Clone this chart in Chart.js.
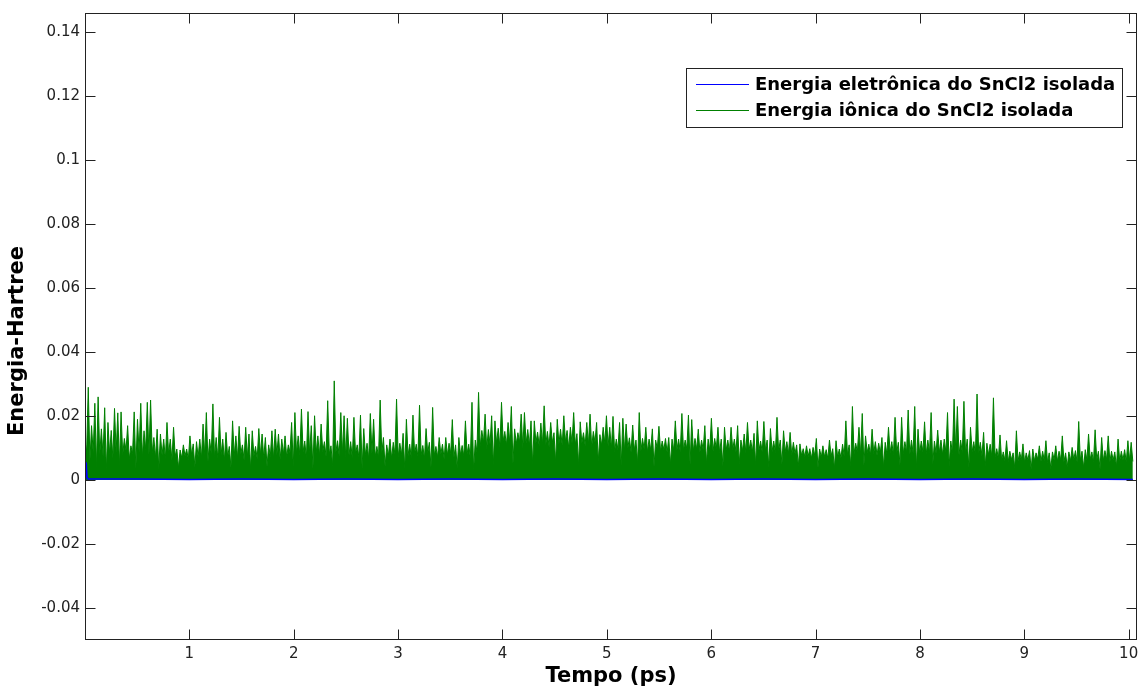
<!DOCTYPE html>
<html lang="pt">
<head>
    <meta charset="UTF-8">
    <title>Energia do SnCl2 isolada</title>
    <script src="https://cdn.jsdelivr.net/npm/chart.js"></script>
    <style>
        html, body { margin: 0; padding: 0; background: #fff; }
        #grafico { display: block; }
    </style>
</head>
<body>
    <canvas id="grafico" width="1139" height="690"></canvas>

    <script>
        // Rótulos e eixos
        const rotulos = ['Energia eletrônica do SnCl2 isolada', 'Energia iônica do SnCl2 isolada'];
        const tituloX = 'Tempo (ps)';
        const tituloY = 'Energia-Hartree';
        const ticksX = [1, 2, 3, 4, 5, 6, 7, 8, 9, 10];
        const ticksY = [-0.04, -0.02, 0, 0.02, 0.04, 0.06, 0.08, 0.1, 0.12, 0.14];

        // Energia eletrônica
        const tempoEle = [0, 0.005, 0.012, 0.02, 0.03, 0.5, 1.0, 1.5, 2.0, 2.5, 3.0, 3.5, 4.0, 4.5, 5.0,
            5.5, 6.0, 6.5, 7.0, 7.5, 8.0, 8.5, 9.0, 9.5, 10.04];
        const energiaEle = [0.0002, 0.0048, 0.0051, 0.0009, 0.0003, 0.0003, 0.0002, 0.0003, 0.0002, 0.0003,
            0.0002, 0.0003, 0.0002, 0.0003, 0.0002, 0.0003, 0.0002, 0.0003, 0.0002, 0.0003, 0.0002, 0.0003,
            0.0002, 0.0003, 0.0002];

        // Energia iônica: máximos e mínimos sucessivos da oscilação
        const tempoFinalIon = 10.04;
        const picosIon = [
            0.012, 0.029, 0.017, 0.024, 0.026, 0.016, 0.0226, 0.018, 0.0155, 0.0224, 0.021, 0.0213, 0.013, 0.017, 0.0107, 0.0213, 0.019, 0.024, 0.0154, 0.0243,
            0.025, 0.0133, 0.0159, 0.0144, 0.0128, 0.018, 0.0128, 0.0165, 0.0097, 0.0094, 0.011, 0.0097, 0.0138, 0.0113, 0.012, 0.0128, 0.0175, 0.0211, 0.0128, 0.0238,
            0.0133, 0.0196, 0.0128, 0.0149, 0.0105, 0.0185, 0.0138, 0.0168, 0.011, 0.0165, 0.0144, 0.0154, 0.0105, 0.0161, 0.0144, 0.0133, 0.011, 0.0154, 0.0159, 0.0144,
            0.0128, 0.0138, 0.011, 0.018, 0.0211, 0.0138, 0.0222, 0.0122, 0.0214, 0.017, 0.0201, 0.0138, 0.0175, 0.012, 0.0248, 0.0107, 0.031, 0.0123, 0.0211, 0.0201,
            0.0193, 0.012, 0.0196, 0.011, 0.0203, 0.0161, 0.0115, 0.0208, 0.019, 0.0105, 0.025, 0.0133, 0.011, 0.0128, 0.0118, 0.0253, 0.0115, 0.0146, 0.019, 0.0112,
            0.0203, 0.0112, 0.0234, 0.0108, 0.0161, 0.0118, 0.0227, 0.0105, 0.0133, 0.0112, 0.0133, 0.0115, 0.0189, 0.011, 0.0133, 0.0108, 0.0185, 0.0112, 0.0243, 0.0125,
            0.0274, 0.0155, 0.0206, 0.0158, 0.0201, 0.0185, 0.0162, 0.0243, 0.0152, 0.018, 0.023, 0.016, 0.0148, 0.0206, 0.0211, 0.0158, 0.0185, 0.0185, 0.015, 0.0178,
            0.0232, 0.0152, 0.018, 0.0148, 0.019, 0.0159, 0.0201, 0.0155, 0.0165, 0.0211, 0.0145, 0.0182, 0.0148, 0.018, 0.0206, 0.0152, 0.018, 0.0142, 0.0165, 0.0201,
            0.0165, 0.0199, 0.0128, 0.018, 0.0193, 0.0175, 0.0132, 0.0172, 0.0125, 0.0211, 0.013, 0.0165, 0.0128, 0.016, 0.0125, 0.0168, 0.0122, 0.013, 0.0133, 0.0128,
            0.0185, 0.0128, 0.0208, 0.0125, 0.0203, 0.0189, 0.013, 0.0159, 0.0125, 0.017, 0.0128, 0.0193, 0.013, 0.0165, 0.0128, 0.0165, 0.0125, 0.0165, 0.0128, 0.017,
            0.0125, 0.0144, 0.018, 0.0125, 0.0146, 0.0185, 0.0122, 0.0183, 0.0125, 0.0161, 0.0122, 0.0196, 0.0125, 0.0154, 0.012, 0.0149, 0.0118, 0.011, 0.0113, 0.0098,
            0.0107, 0.0098, 0.0102, 0.013, 0.0097, 0.0107, 0.0095, 0.0125, 0.0098, 0.0123, 0.0097, 0.0112, 0.0185, 0.011, 0.023, 0.0115, 0.0165, 0.0208, 0.0138, 0.0112,
            0.0159, 0.012, 0.0115, 0.0133, 0.0118, 0.0165, 0.012, 0.0196, 0.0118, 0.0196, 0.012, 0.0219, 0.0125, 0.023, 0.0159, 0.0122, 0.0182, 0.0125, 0.0211, 0.0122,
            0.0156, 0.0125, 0.0128, 0.0211, 0.0122, 0.0253, 0.023, 0.0125, 0.0246, 0.0128, 0.0165, 0.012, 0.0269, 0.0118, 0.0149, 0.0115, 0.0112, 0.0257, 0.0098, 0.0141,
            0.0088, 0.0123, 0.009, 0.0085, 0.0154, 0.0088, 0.0113, 0.0085, 0.0092, 0.0097, 0.0085, 0.0107, 0.009, 0.0123, 0.0085, 0.0088, 0.0107, 0.009, 0.0138, 0.0085,
            0.0088, 0.0102, 0.0092, 0.0183, 0.009, 0.0095, 0.0144, 0.0088, 0.0157, 0.009, 0.0133, 0.0092, 0.0138, 0.009, 0.0088, 0.0128, 0.009, 0.0095, 0.0123, 0.0118
        ];
        const valesIon = [
            0.009, 0.006, 0.0085, 0.004, 0.008, 0.0075, 0.003, 0.0082, 0.0068, 0.0088, 0.0045, 0.0078, 0.0092, 0.0065, 0.0083, 0.0035, 0.0087, 0.0072, 0.0095, 0.0079,
            0.0085, 0.007, 0.0035, 0.0078, 0.0066, 0.0081, 0.0062, 0.0074, 0.0038, 0.0069, 0.0075, 0.0064, 0.0079, 0.0041, 0.0072, 0.0068, 0.0077, 0.0059, 0.0082, 0.0071,
            0.0067, 0.0079, 0.0061, 0.0072, 0.0039, 0.0075, 0.0068, 0.0081, 0.0063, 0.0071, 0.0034, 0.0076, 0.0066, 0.0078, 0.0069, 0.0042, 0.0073, 0.0067, 0.0079, 0.0064,
            0.0081, 0.0072, 0.0086, 0.0043, 0.0084, 0.0079, 0.0088, 0.0069, 0.0083, 0.0036, 0.0085, 0.0077, 0.0089, 0.0074, 0.0082, 0.0045, 0.0087, 0.0076, 0.0084, 0.0071,
            0.0078, 0.0069, 0.0082, 0.0072, 0.0038, 0.0079, 0.0067, 0.0083, 0.0074, 0.0071, 0.0085, 0.0042, 0.0076, 0.0068, 0.0081, 0.0073, 0.0079, 0.0035, 0.0077, 0.0069,
            0.0082, 0.0074, 0.0079, 0.0068, 0.0084, 0.0041, 0.0077, 0.0072, 0.0081, 0.0066, 0.0078, 0.0083, 0.0071, 0.0037, 0.0079, 0.0075, 0.0082, 0.0069, 0.0028, 0.0088,
            0.0105, 0.0118, 0.0098, 0.0112, 0.0046, 0.0115, 0.0103, 0.0121, 0.0109, 0.0117, 0.0052, 0.0113, 0.0119, 0.0101, 0.0114, 0.0108, 0.0048, 0.0116, 0.0106, 0.0112,
            0.011, 0.0104, 0.0117, 0.0055, 0.0113, 0.0108, 0.012, 0.0099, 0.0115, 0.0111, 0.0047, 0.0116, 0.0107, 0.0112, 0.0103, 0.0118, 0.0058, 0.0109, 0.0114, 0.0106,
            0.0098, 0.0089, 0.0095, 0.0045, 0.0092, 0.0099, 0.0087, 0.0094, 0.0053, 0.0091, 0.0096, 0.0088, 0.0093, 0.0042, 0.0097, 0.009, 0.0094, 0.0086, 0.0049, 0.0092,
            0.0095, 0.0088, 0.0093, 0.0097, 0.0048, 0.0091, 0.0096, 0.0087, 0.0094, 0.0052, 0.0092, 0.0089, 0.0098, 0.0086, 0.0044, 0.0093, 0.009, 0.0095, 0.0088, 0.0051,
            0.0091, 0.0085, 0.0094, 0.0088, 0.0046, 0.0092, 0.0087, 0.0093, 0.0041, 0.0089, 0.0086, 0.0091, 0.0049, 0.0088, 0.0084, 0.0079, 0.0082, 0.0043, 0.0077, 0.0072,
            0.0074, 0.0068, 0.0076, 0.0039, 0.0071, 0.0073, 0.0067, 0.0075, 0.0036, 0.0072, 0.0069, 0.0074, 0.0079, 0.0042, 0.0083, 0.0088, 0.0081, 0.0045, 0.0086, 0.0079,
            0.0083, 0.0077, 0.0085, 0.0041, 0.0081, 0.0086, 0.0079, 0.0084, 0.0047, 0.0082, 0.0087, 0.008, 0.0085, 0.0038, 0.0083, 0.0088, 0.0081, 0.0086, 0.0049, 0.0084,
            0.0086, 0.008, 0.0087, 0.0045, 0.0083, 0.0089, 0.0078, 0.0085, 0.0082, 0.0039, 0.0088, 0.0081, 0.0084, 0.0076, 0.0044, 0.0079, 0.0074, 0.0071, 0.0068, 0.0062,
            0.0061, 0.0057, 0.0064, 0.0038, 0.0059, 0.0063, 0.0056, 0.0062, 0.0034, 0.006, 0.0065, 0.0058, 0.0061, 0.0055, 0.0036, 0.0063, 0.0059, 0.0062, 0.0057, 0.0041,
            0.006, 0.0064, 0.0057, 0.0062, 0.0039, 0.0061, 0.0065, 0.0058, 0.0063, 0.0035, 0.006, 0.0064, 0.0057, 0.0062, 0.0042, 0.0059, 0.0063, 0.0056, 0.0061, 0.0058
        ];

        const corEle = 'rgb(0, 0, 255)';
        const corIon = 'rgb(0, 128, 0)';
        const corEixo = '#222';

        // Monta os pontos (pico, vale, pico, vale...) em amostragem uniforme no tempo
        const pontosEle = tempoEle.map((t, i) => ({ x: t, y: energiaEle[i] }));
        const pontosIon = [];
        const nAmostras = picosIon.length * 2;
        const passo = tempoFinalIon / (nAmostras - 1);
        for (let i = 0; i < picosIon.length; i++) {
            pontosIon.push({ x: 2 * i * passo, y: picosIon[i] });
            pontosIon.push({ x: (2 * i + 1) * passo, y: valesIon[i] });
        }

        // Moldura, marcas internas, títulos e legenda no estilo do MATLAB
        const estiloMatlab = {
            id: 'estiloMatlab',
            afterDatasetsDraw(chart) {
                const ctx = chart.ctx;
                const area = chart.chartArea;
                const sx = chart.scales.x, sy = chart.scales.y;
                const L = Math.round(area.left) + 0.5, R = Math.round(area.right) - 0.5;
                const T = Math.round(area.top) + 0.5, B = Math.round(area.bottom) - 0.5;
                const tam = 10;

                ctx.save();
                ctx.strokeStyle = corEixo;
                ctx.lineWidth = 1;
                ctx.strokeRect(L, T, R - L, B - T);
                ctx.beginPath();
                ticksX.forEach(v => {
                    const px = Math.round(sx.getPixelForValue(v)) + 0.5;
                    ctx.moveTo(px, B); ctx.lineTo(px, B - tam);
                    ctx.moveTo(px, T); ctx.lineTo(px, T + tam);
                });
                ticksY.forEach(v => {
                    const py = Math.round(sy.getPixelForValue(v)) + 0.5;
                    ctx.moveTo(L, py); ctx.lineTo(L + tam, py);
                    ctx.moveTo(R, py); ctx.lineTo(R - tam, py);
                });
                ctx.stroke();

                // títulos dos eixos
                ctx.fillStyle = '#000';
                ctx.font = 'bold 21px "DejaVu Sans"';
                ctx.textAlign = 'center';
                ctx.textBaseline = 'middle';
                ctx.fillText(tituloX, (area.left + area.right) / 2, 677);
                ctx.translate(18, 341);
                ctx.rotate(-Math.PI / 2);
                ctx.fillText(tituloY, 0, 0);
                ctx.restore();

                // legenda
                ctx.save();
                const bx = 686.5, by = 68.5, bw = 436, bh = 59;
                ctx.fillStyle = '#fff';
                ctx.fillRect(bx, by, bw, bh);
                ctx.strokeStyle = corEixo;
                ctx.lineWidth = 1;
                ctx.strokeRect(bx, by, bw, bh);
                ctx.font = 'bold 18px "DejaVu Sans"';
                ctx.textAlign = 'left';
                ctx.textBaseline = 'middle';
                chart.data.datasets.forEach((ds, i) => {
                    const ly = 84.5 + i * 26;
                    ctx.strokeStyle = ds.borderColor;
                    ctx.beginPath();
                    ctx.moveTo(696, ly); ctx.lineTo(749, ly);
                    ctx.stroke();
                    ctx.fillStyle = '#000';
                    ctx.fillText(ds.label, 755, ly + 1);
                });
                ctx.restore();
            }
        };

        new Chart(document.getElementById('grafico'), {
            type: 'line',
            data: {
                datasets: [
                    {
                        label: rotulos[0],
                        data: pontosEle,
                        borderColor: corEle,
                        borderWidth: 1.5,
                        pointRadius: 0,
                        fill: false
                    },
                    {
                        label: rotulos[1],
                        data: pontosIon,
                        borderColor: corIon,
                        backgroundColor: corIon,
                        borderWidth: 1,
                        pointRadius: 0,
                        fill: 'origin'
                    }
                ]
            },
            options: {
                responsive: false,
                animation: false,
                events: [],
                layout: { padding: { left: 0, right: 2, top: 13, bottom: 0 } },
                plugins: {
                    legend: { display: false },
                    tooltip: { enabled: false }
                },
                elements: { line: { tension: 0 } },
                scales: {
                    x: {
                        type: 'linear',
                        min: 0,
                        max: 10.08,
                        grid: { display: false, drawTicks: false },
                        border: { display: false },
                        afterBuildTicks: s => { s.ticks = ticksX.map(v => ({ value: v })); },
                        afterFit: s => { s.height = 50; s.paddingLeft = 0; s.paddingRight = 0; },
                        ticks: {
                            padding: 5,
                            maxRotation: 0,
                            autoSkip: false,
                            color: '#222',
                            font: { family: '"DejaVu Sans"', size: 15 },
                            callback: v => String(v)
                        }
                    },
                    y: {
                        type: 'linear',
                        min: -0.05,
                        max: 0.146,
                        grid: { display: false, drawTicks: false },
                        border: { display: false },
                        afterBuildTicks: s => { s.ticks = ticksY.map(v => ({ value: v })); },
                        afterFit: s => { s.width = 85; s.paddingTop = 0; s.paddingBottom = 0; },
                        ticks: {
                            padding: 5,
                            autoSkip: false,
                            color: '#222',
                            font: { family: '"DejaVu Sans"', size: 15 },
                            callback: v => String(v)
                        }
                    }
                }
            },
            plugins: [estiloMatlab]
        });
    </script>
</body>
</html>
